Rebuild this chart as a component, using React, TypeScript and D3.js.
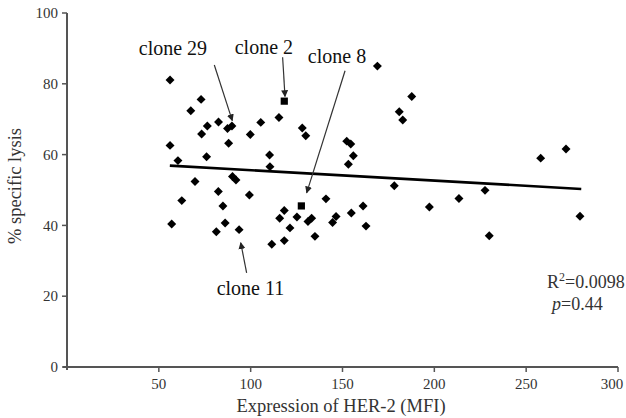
import React from "react";
import * as d3 from "d3";

// HER-2 expression (MFI) vs % specific lysis
const pointsX = [
  56.1, 73.0, 67.4, 76.4, 82.5, 87.4, 89.8, 105.5, 115.4, 73.3,
  99.8, 56.1, 88.0, 76.0, 60.4, 110.3, 110.5, 69.7, 90.1, 92.0,
  82.4, 99.3, 62.5, 84.9, 57.0, 86.1, 81.3, 93.7, 111.5, 115.8,
  118.3, 121.4, 118.3, 125.2, 131.2, 133.2, 135.0, 141.0, 144.6, 146.5,
  154.8, 161.2, 162.8, 155.9, 153.2, 152.3, 154.5, 128.1, 130.0, 169.0,
  187.7, 180.9, 182.8, 178.2, 197.3, 213.4, 227.6, 229.9, 257.9, 271.7,
  279.3,
];
const pointsY = [
  81.1, 75.6, 72.4, 68.1, 69.2, 67.4, 68.1, 69.1, 70.5, 65.8,
  65.7, 62.6, 63.2, 59.4, 58.3, 59.9, 56.6, 52.4, 53.8, 52.8,
  49.6, 48.6, 47.0, 45.5, 40.4, 40.7, 38.2, 38.8, 34.7, 42.0,
  44.2, 39.3, 35.7, 42.4, 41.1, 42.0, 36.9, 47.5, 40.8, 42.5,
  43.5, 45.5, 39.8, 59.7, 57.3, 63.8, 63.0, 67.5, 65.3, 85.0,
  76.4, 72.1, 69.8, 51.2, 45.2, 47.6, 49.9, 37.1, 59.0, 61.6,
  42.6,
];
// highlighted clones (square markers)
const cloneX = [118.3, 127.6];
const cloneY = [75.1, 45.5];

// linear fit
const fitIntercept = 58.55;
const fitSlope = -0.0295;
const fitRange = [56, 280];

const xTicks = [50, 100, 150, 200, 250, 300];
const yTicks = [0, 20, 40, 60, 80, 100];

const annLabels = ["clone 29", "clone 2", "clone 8", "clone 11"];
const annTextX = [57.7, 107.2, 147.0, 99.9];
const annTextY = [88.1, 88.4, 85.8, 20.3];
const annFromX = [80.2, 117.4, 151.4, 97.8];
const annFromY = [85.3, 87.5, 83.7, 26.6];
const annToX = [90.0, 118.7, 130.5, 94.6];
const annToY = [69.6, 76.4, 49.2, 35.1];

const W = 626;
const H = 418;
const FONT = "'Liberation Serif', 'Times New Roman', serif";

export default function App() {
  const x = d3.scaleLinear().domain([0, 300]).range([67, 618]);
  const y = d3.scaleLinear().domain([0, 100]).range([367, 13]);
  const diamond = d3.symbol().type(d3.symbolSquare).size(40)();
  const square = d3.symbol().type(d3.symbolSquare).size(52)();
  const line = d3
    .line<number>()
    .x((v) => x(v))
    .y((v) => y(fitIntercept + fitSlope * v));
  const axisColor = "#555";
  const textColor = "#333";

  return (
    <div style={{ position: "absolute", left: 0, top: 0 }}>
      <svg width={W} height={H} style={{ display: "block", background: "#fff" }}>
        <defs>
          <marker
            id="ah"
            viewBox="0 0 10 10"
            refX="9"
            refY="5"
            markerWidth="7"
            markerHeight="7"
            markerUnits="userSpaceOnUse"
            orient="auto"
          >
            <path d="M0,0 L10,5 L0,10 z" fill="#222" />
          </marker>
        </defs>
        {/* axes */}
        <line x1={x(0)} x2={x(0)} y1={y(100)} y2={y(0) + 3} stroke={axisColor} strokeWidth={2} />
        <line x1={x(0) - 4} x2={x(300)} y1={y(0)} y2={y(0)} stroke={axisColor} strokeWidth={2} />
        {yTicks.map((t) => (
          <g key={"y" + t}>
            <line x1={x(0) - 5} x2={x(0)} y1={y(t)} y2={y(t)} stroke={axisColor} strokeWidth={1.5} />
            <text
              x={x(0) - 9}
              y={y(t)}
              dy="0.35em"
              textAnchor="end"
              fontFamily={FONT}
              fontSize={15}
              fill={textColor}
            >
              {t}
            </text>
          </g>
        ))}
        {xTicks.map((t) => (
          <g key={"x" + t}>
            <line x1={x(t)} x2={x(t)} y1={y(0)} y2={y(0) + 5} stroke={axisColor} strokeWidth={1.5} />
            <text
              x={Math.min(x(t), W - 14)}
              y={y(0) + 22}
              textAnchor="middle"
              fontFamily={FONT}
              fontSize={15}
              fill={textColor}
            >
              {t}
            </text>
          </g>
        ))}
        <text
          x={341}
          y={412}
          textAnchor="middle"
          fontFamily={FONT}
          fontSize={18.5}
          fill={textColor}
        >
          Expression of HER-2 (MFI)
        </text>
        <text
          transform={`translate(21,186) rotate(-90)`}
          textAnchor="middle"
          fontFamily={FONT}
          fontSize={18.5}
          fill={textColor}
        >
          % specific lysis
        </text>

        {/* trend line */}
        <path d={line(fitRange) || ""} fill="none" stroke="#000" strokeWidth={2.6} />

        {/* points */}
        {pointsX.map((v, i) => (
          <path
            key={"p" + i}
            d={diamond}
            transform={`translate(${x(v)},${y(pointsY[i])}) rotate(45)`}
            fill="#000"
          />
        ))}
        {cloneX.map((v, i) => (
          <path key={"c" + i} d={square} transform={`translate(${x(v)},${y(cloneY[i])})`} fill="#000" />
        ))}

        {/* annotations */}
        {annLabels.map((lab, i) => (
          <g key={"a" + i}>
            <line
              x1={x(annFromX[i])}
              y1={y(annFromY[i])}
              x2={x(annToX[i])}
              y2={y(annToY[i])}
              stroke="#333"
              strokeWidth={1.2}
              markerEnd="url(#ah)"
            />
            <text
              x={x(annTextX[i])}
              y={y(annTextY[i])}
              textAnchor="middle"
              fontFamily={FONT}
              fontSize={20}
              fill="#111"
            >
              {lab}
            </text>
          </g>
        ))}

        {/* stats */}
        <text x={547} y={288} fontFamily={FONT} fontSize={18} fill={textColor}>
          R<tspan dy={-7} fontSize={12}>2</tspan>
          <tspan dy={7}>=0.0098</tspan>
        </text>
        <text x={552} y={310} fontFamily={FONT} fontSize={18} fill={textColor}>
          <tspan fontStyle="italic">p</tspan>=0.44
        </text>
      </svg>
    </div>
  );
}
